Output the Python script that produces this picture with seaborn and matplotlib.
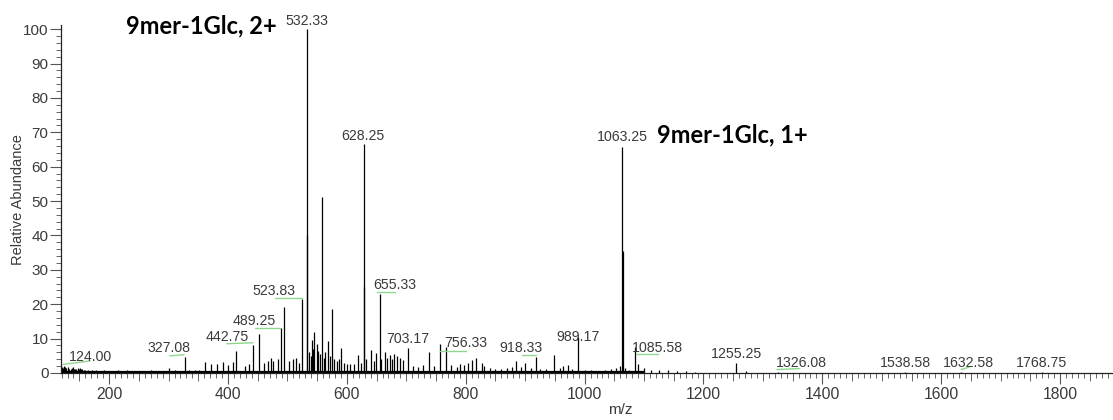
import numpy as np
import pandas as pd
import matplotlib
matplotlib.use("Agg")
import matplotlib.pyplot as plt
from matplotlib.ticker import MultipleLocator, FixedLocator, NullFormatter
import seaborn as sns

sns.set_theme(style="ticks")
plt.rcParams["font.family"] = ["Liberation Sans", "DejaVu Sans"]

# labelled peaks: m/z, relative abundance
label_mz = [124.00, 327.08, 442.75, 489.25, 523.83, 532.33, 628.25, 655.33,
            703.17, 756.33, 918.33, 989.17, 1063.25, 1085.58, 1255.25,
            1326.08, 1538.58, 1632.58, 1768.75]
label_int = [2.0, 4.7, 8.0, 13.0, 21.5, 100.0, 66.5, 23.0,
             7.3, 8.5, 4.6, 10.6, 65.8, 7.6, 2.8,
             0.3, 0.2, 0.3, 0.2]
# where the label text sits (m/z, abundance)
text_mz = [167.7, 300.6, 398.2, 443.7, 477.3, 532.0, 627.0, 680.9,
           702.8, 800.3, 892.4, 988.8, 1063.6, 1123.0, 1255.8,
           1364.5, 1539.4, 1645.4, 1769.4]
text_int = [4.65, 7.3, 10.5, 15.1, 23.8, 102.4, 68.9, 25.6,
            9.9, 8.7, 7.3, 10.5, 68.6, 7.3, 5.5,
            3.0, 3.0, 3.0, 3.0]
# green leader lines under shifted labels
lead_mz0 = [122.5, 302.0, 398.0, 445.0, 479.0, 650.7, 756.6, 894.0, 1086.0, 1323.6, 1634.0]
lead_mz1 = [167.7, 326.0, 442.0, 487.0, 524.0, 681.0, 800.0, 918.0, 1123.0, 1362.0, 1648.0]
lead_y0 = [2.5, 5.0, 8.5, 13.1, 21.8, 23.5, 6.4, 5.2, 5.5, 1.0, 1.0]
lead_y1 = [3.5, 5.3, 8.8, 13.1, 21.8, 23.5, 6.4, 5.2, 5.5, 1.3, 1.8]

# other peaks
peak_mz = [558.5, 575.5, 494.5, 451.5, 413.5, 545.0, 541.0, 549.0, 567.5, 590.5,
           619.5, 640.0, 649.0, 664.0, 672.0, 680.0, 685.0, 738.5, 766.5, 797.5,
           810.0, 817.0, 826.5, 884.0, 900.5, 948.5, 971.5, 1064.25, 533.0, 629.0,
           537.0, 539.0, 543.0, 552.0, 555.0, 561.0, 564.0, 571.0, 579.0, 583.0,
           586.0, 595.0, 600.0, 606.0, 612.0, 624.0, 633.0, 645.0, 658.0, 668.0,
           676.0, 690.0, 695.0, 711.0, 720.0, 728.0, 746.0, 775.0, 785.0, 790.0,
           803.0, 830.0, 840.0, 850.0, 860.0, 870.0, 877.0, 893.0, 910.0, 925.0,
           935.0, 958.0, 964.0, 978.0, 1000.0, 1010.0, 1020.0, 1035.0, 1045.0, 1052.0,
           1060.0, 1068.0, 1075.0, 1090.0, 1100.0, 1112.0, 1125.0, 1140.0, 1155.0, 1170.0,
           1185.0, 1272.0, 362.0, 372.0, 381.5, 391.5, 400.0, 408.5, 428.0, 436.0,
           460.0, 467.0, 472.0, 476.0, 484.0, 503.0, 510.0, 515.0, 519.0, 125.0,
           128.0, 131.0, 135.0, 139.0, 143.0, 147.0, 151.0, 155.0, 160.0, 165.0,
           171.0, 178.0, 185.0, 192.0, 199.0, 207.0, 215.0, 222.0, 230.0, 240.0,
           250.0, 260.0, 270.0, 280.0, 290.0, 300.0, 310.0, 318.0, 335.0, 345.0,
           352.0, 120.5, 122.0, 133.0, 137.0, 141.0, 145.0, 149.0, 153.0, 157.0]
peak_int = [51.2, 18.7, 19.2, 11.3, 6.4, 12.0, 9.5, 8.5, 9.2, 7.4,
            5.2, 6.8, 5.8, 6.0, 5.2, 5.5, 5.0, 6.2, 7.5, 2.3,
            3.8, 4.3, 2.9, 3.5, 2.8, 5.2, 2.3, 35.5, 40.0, 25.0,
            6.0, 5.0, 7.0, 6.5, 5.5, 4.5, 6.0, 5.0, 4.0, 3.5,
            4.0, 3.0, 2.5, 2.5, 2.5, 3.0, 4.0, 3.5, 4.0, 4.5,
            4.0, 4.5, 3.8, 2.0, 1.8, 2.3, 2.0, 2.2, 1.8, 2.5,
            3.0, 2.0, 1.5, 1.2, 1.3, 1.5, 1.8, 1.8, 1.4, 1.2,
            1.2, 1.5, 2.0, 1.3, 1.0, 0.8, 0.7, 0.8, 1.2, 1.5,
            2.0, 1.5, 1.0, 2.5, 1.5, 1.0, 1.0, 0.8, 0.6, 0.5,
            0.4, 0.6, 3.1, 2.7, 2.7, 3.1, 2.2, 3.2, 2.0, 2.5,
            3.0, 3.5, 4.3, 3.5, 4.0, 3.5, 4.0, 4.3, 3.0, 1.8,
            1.5, 1.8, 1.3, 1.6, 1.2, 1.4, 1.5, 1.2, 1.0, 0.9,
            0.8, 0.8, 0.7, 0.8, 0.7, 0.6, 0.8, 0.6, 0.9, 0.6,
            0.7, 0.6, 0.9, 0.6, 0.7, 1.4, 0.8, 0.7, 0.8, 1.0,
            1.0, 1.6, 1.4, 1.2, 1.5, 1.1, 1.3, 1.2, 1.1, 1.0]

# noise floor of the profile
floor_mz = [119.0, 1100.0]
floor_int = [0.4, 0.4]

spec = pd.DataFrame({"mz": label_mz + peak_mz, "intensity": label_int + peak_int})

fig = plt.figure(figsize=(11.13, 4.2), dpi=100)
ax = fig.add_axes([61 / 1113, 47 / 420, 1052 / 1113, 348 / 420])

ax.vlines(spec["mz"], 0, spec["intensity"], color="black", lw=0.9)
ax.plot(floor_mz, floor_int, color="black", lw=1.6)

grey = "#3a3a3a"
for mz, y, t in zip(text_mz, text_int, label_mz):
    ax.text(mz, y, f"{t:.2f}", ha="center", va="center", fontsize=10.2, color=grey)
for a, b, c, d in zip(lead_mz0, lead_mz1, lead_y0, lead_y1):
    ax.plot([a, b], [c, d], color="#8ed88e", lw=1.0)

ax.text(355.7, 100.9, "9mer-1Glc, 2+", ha="center", va="center", fontsize=17,
        fontweight="bold", family=["Lato", "DejaVu Sans"], color="black")
ax.text(1248.7, 69.2, "9mer-1Glc, 1+", ha="center", va="center", fontsize=17,
        fontweight="bold", family=["Lato", "DejaVu Sans"], color="black")

ax.set_xlim(119, 1889)
ax.set_ylim(0, 101.2)
sns.despine(ax=ax, top=True, right=True)
for s in ["left", "bottom"]:
    ax.spines[s].set_color("#222222")
    ax.spines[s].set_linewidth(0.9)

ax.xaxis.set_major_locator(MultipleLocator(200))
ax.xaxis.set_minor_locator(MultipleLocator(10))
ax.yaxis.set_major_locator(MultipleLocator(10))
ax.yaxis.set_minor_locator(MultipleLocator(2))
ax.tick_params(axis="both", which="major", direction="out", length=8, width=0.8,
               colors="#555555", labelcolor=grey, labelsize=11.3)
ax.tick_params(axis="both", which="minor", direction="out", length=3.5, width=0.7,
               colors="#666666")
ax.tick_params(axis="y", which="major", pad=1, labelsize=11)
ax.tick_params(axis="x", which="major", pad=2)

# mid-length ticks every 50
sec = ax.secondary_xaxis(0)
sec.xaxis.set_major_locator(FixedLocator(np.arange(150, 1900, 50)))
sec.xaxis.set_major_formatter(NullFormatter())
sec.tick_params(direction="out", length=5.5, width=0.7, colors="#666666")
sec.spines["bottom"].set_visible(False)

ax.set_xlabel("m/z", fontsize=11, color=grey)
ax.set_ylabel("Relative Abundance", fontsize=10.5, color=grey)
ax.xaxis.set_label_coords((620 - 61) / 1052, -(410 - 373) / 348)
ax.yaxis.set_label_coords(-(61 - 18) / 1052, (373 - 200) / 348)
ax.xaxis.label.set_va("center")
ax.yaxis.label.set_va("center")

fig.savefig("out.png", dpi=100)
